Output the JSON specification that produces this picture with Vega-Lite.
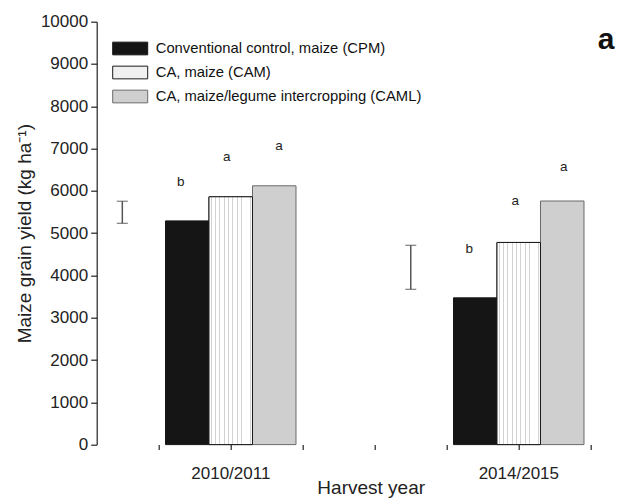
{
  "$schema": "https://vega.github.io/schema/vega-lite/v6.json",
  "width": 523.3,
  "height": 422.9,
  "autosize": {"type": "none"},
  "padding": {"left": 101.7, "top": 21.7, "right": 0, "bottom": 54.4},
  "config": {
    "view": {"stroke": null},
    "font": "Liberation Sans",
    "axis": {
      "grid": false,
      "domainColor": "#222222",
      "tickColor": "#222222",
      "labelColor": "#222222",
      "titleColor": "#222222",
      "domainWidth": 1.2,
      "tickWidth": 1.2,
      "labelFont": "Liberation Sans",
      "titleFont": "Liberation Sans",
      "titleFontWeight": "normal"
    }
  },
  "resolve": {"scale": {"x": "independent", "xOffset": "independent"}, "axis": {"x": "independent"}},
  "datasets": {
    "bars": [
      {"year": 2010, "treatment": "Conventional control, maize (CPM)", "yield": 5290},
      {"year": 2010, "treatment": "CA, maize (CAM)", "yield": 5860},
      {"year": 2010, "treatment": "CA, maize/legume intercropping (CAML)", "yield": 6120},
      {"year": 2014, "treatment": "Conventional control, maize (CPM)", "yield": 3470},
      {"year": 2014, "treatment": "CA, maize (CAM)", "yield": 4780},
      {"year": 2014, "treatment": "CA, maize/legume intercropping (CAML)", "yield": 5760}
    ],
    "lsd": [
      {"year": 2008.5, "lo": 5232, "hi": 5754},
      {"year": 2012.5, "lo": 3671, "hi": 4712}
    ],
    "letters": [
      {"x": 2009.309, "y": 6200, "label": "b"},
      {"x": 2009.947, "y": 6806, "label": "a"},
      {"x": 2010.673, "y": 7066, "label": "a"},
      {"x": 2013.312, "y": 4624, "label": "b"},
      {"x": 2013.95, "y": 5759, "label": "a"},
      {"x": 2014.621, "y": 6556, "label": "a"}
    ],
    "panel": [{"x": 2015.21, "y": 9345, "label": "a"}]
  },
  "layer": [
    {
      "data": {"name": "bars"},
      "mark": {"type": "bar", "strokeWidth": 1},
      "encoding": {
        "x": {
          "field": "year", "type": "ordinal",
          "scale": {"domain": [2009, 2010, 2011, 2012, 2013, 2014, 2015], "range": [21.14, 525.14], "paddingInner": 0, "paddingOuter": 0},
          "axis": {
            "labelExpr": "datum.value == 2010 ? '2010/2011' : datum.value == 2014 ? '2014/2015' : ''",
            "labelOverlap": false,
            "labelAngle": 0,
            "domain": false,
            "tickSize": 5,
            "labelPadding": 16,
            "labelFontSize": 17,
            "title": "Harvest year",
            "titleFontSize": 19,
            "titlePadding": -3,
            "titleX": 269
          }
        },
        "xOffset": {
          "field": "treatment", "type": "nominal",
          "scale": {"type": "band", "domain": ["Conventional control, maize (CPM)", "CA, maize (CAM)", "CA, maize/legume intercropping (CAML)"], "range": [-29.35, 101.15], "paddingInner": 0, "paddingOuter": 0}
        },
        "y": {
          "field": "yield", "type": "quantitative",
          "scale": {"domain": [0, 10000], "nice": false},
          "axis": {
            "values": [0, 1000, 2000, 3000, 4000, 5000, 6000, 7000, 8000, 9000, 10000],
            "format": "d",
            "offset": 5,
            "tickSize": 6,
            "labelPadding": 3,
            "labelFontSize": 17,
            "title": "Maize grain yield (kg ha⁻¹)",
            "titleFontSize": 19,
            "titlePadding": 6
          }
        },
        "fill": {
          "field": "treatment", "type": "nominal",
          "scale": {
            "domain": ["Conventional control, maize (CPM)", "CA, maize (CAM)", "CA, maize/legume intercropping (CAML)"],
            "range": ["#151515", "#f0f0f0", "#cfcfcf"]
          },
          "legend": {
            "title": null,
            "orient": "none",
            "legendX": 15,
            "legendY": 13.3,
            "symbolType": "M-1.378,-0.5H1.378V0.5H-1.378Z",
            "symbolSize": 645,
            "symbolStrokeWidth": 1,
            "labelFontSize": 14.8,
            "labelFont": "Liberation Sans",
            "labelColor": "#111111",
            "labelLimit": 400,
            "labelOffset": 12,
            "rowPadding": 2
          }
        },
        "stroke": {
          "field": "treatment", "type": "nominal",
          "scale": {"domain": ["Conventional control, maize (CPM)", "CA, maize (CAM)", "CA, maize/legume intercropping (CAML)"], "range": ["#151515", "#1a1a1a", "#6a6a6a"]},
          "legend": null
        }
      }
    },
    {
      "data": {"name": "bars"},
      "transform": [{"filter": "datum.treatment === 'CA, maize (CAM)'"}],
      "mark": {
        "type": "bar", "stroke": "#1a1a1a", "strokeWidth": 1,
        "fill": {"gradient": "linear", "x1": 0, "y1": 0, "x2": 1, "y2": 0, "stops": [
          {"offset": 0, "color": "#ffffff"},
          {"offset": 0.04, "color": "#ffffff"}, {"offset": 0.04, "color": "#d2d2d2"}, {"offset": 0.06, "color": "#d2d2d2"}, {"offset": 0.06, "color": "#ffffff"},
          {"offset": 0.14, "color": "#ffffff"}, {"offset": 0.14, "color": "#d2d2d2"}, {"offset": 0.16, "color": "#d2d2d2"}, {"offset": 0.16, "color": "#ffffff"},
          {"offset": 0.24, "color": "#ffffff"}, {"offset": 0.24, "color": "#d2d2d2"}, {"offset": 0.26, "color": "#d2d2d2"}, {"offset": 0.26, "color": "#ffffff"},
          {"offset": 0.34, "color": "#ffffff"}, {"offset": 0.34, "color": "#d2d2d2"}, {"offset": 0.36, "color": "#d2d2d2"}, {"offset": 0.36, "color": "#ffffff"},
          {"offset": 0.44, "color": "#ffffff"}, {"offset": 0.44, "color": "#d2d2d2"}, {"offset": 0.46, "color": "#d2d2d2"}, {"offset": 0.46, "color": "#ffffff"},
          {"offset": 0.54, "color": "#ffffff"}, {"offset": 0.54, "color": "#d2d2d2"}, {"offset": 0.56, "color": "#d2d2d2"}, {"offset": 0.56, "color": "#ffffff"},
          {"offset": 0.64, "color": "#ffffff"}, {"offset": 0.64, "color": "#d2d2d2"}, {"offset": 0.66, "color": "#d2d2d2"}, {"offset": 0.66, "color": "#ffffff"},
          {"offset": 0.74, "color": "#ffffff"}, {"offset": 0.74, "color": "#d2d2d2"}, {"offset": 0.76, "color": "#d2d2d2"}, {"offset": 0.76, "color": "#ffffff"},
          {"offset": 0.84, "color": "#ffffff"}, {"offset": 0.84, "color": "#d2d2d2"}, {"offset": 0.86, "color": "#d2d2d2"}, {"offset": 0.86, "color": "#ffffff"},
          {"offset": 0.94, "color": "#ffffff"}, {"offset": 0.94, "color": "#d2d2d2"}, {"offset": 0.96, "color": "#d2d2d2"}, {"offset": 0.96, "color": "#ffffff"},
          {"offset": 1, "color": "#ffffff"}
        ]}
      },
      "encoding": {
        "x": {
          "field": "year", "type": "ordinal",
          "scale": {"domain": [2009, 2010, 2011, 2012, 2013, 2014, 2015], "range": [21.14, 525.14], "paddingInner": 0, "paddingOuter": 0},
          "axis": null
        },
        "xOffset": {
          "field": "treatment", "type": "nominal",
          "scale": {"type": "band", "domain": ["Conventional control, maize (CPM)", "CA, maize (CAM)", "CA, maize/legume intercropping (CAML)"], "range": [-29.35, 101.15], "paddingInner": 0, "paddingOuter": 0}
        },
        "y": {"field": "yield", "type": "quantitative"}
      }
    },
    {
      "data": {"name": "lsd"},
      "mark": {"type": "rule", "color": "#555555", "strokeWidth": 1.5},
      "encoding": {
        "x": {"field": "year", "type": "quantitative", "scale": {"domain": [2008.214, 2015.471], "nice": false, "zero": false}, "axis": null},
        "y": {"field": "lo", "type": "quantitative"},
        "y2": {"field": "hi"}
      }
    },
    {
      "data": {"name": "lsd"},
      "mark": {"type": "tick", "orient": "horizontal", "color": "#555555", "size": 11, "thickness": 1.3},
      "encoding": {
        "x": {"field": "year", "type": "quantitative", "scale": {"domain": [2008.214, 2015.471], "nice": false, "zero": false}, "axis": null},
        "y": {"field": "lo", "type": "quantitative"}
      }
    },
    {
      "data": {"name": "lsd"},
      "mark": {"type": "tick", "orient": "horizontal", "color": "#555555", "size": 11, "thickness": 1.3},
      "encoding": {
        "x": {"field": "year", "type": "quantitative", "scale": {"domain": [2008.214, 2015.471], "nice": false, "zero": false}, "axis": null},
        "y": {"field": "hi", "type": "quantitative"}
      }
    },
    {
      "data": {"name": "letters"},
      "mark": {"type": "text", "font": "Liberation Sans", "fontSize": 13.5, "color": "#222222", "baseline": "middle", "align": "center"},
      "encoding": {
        "x": {"field": "x", "type": "quantitative", "scale": {"domain": [2008.214, 2015.471], "nice": false, "zero": false}, "axis": null},
        "y": {"field": "y", "type": "quantitative"},
        "text": {"field": "label"}
      }
    },
    {
      "data": {"name": "panel"},
      "mark": {"type": "text", "font": "Liberation Sans", "fontSize": 30, "fontWeight": "bold", "color": "#111111", "baseline": "alphabetic", "align": "center"},
      "encoding": {
        "x": {"field": "x", "type": "quantitative", "scale": {"domain": [2008.214, 2015.471], "nice": false, "zero": false}, "axis": null},
        "y": {"field": "y", "type": "quantitative"},
        "text": {"field": "label"}
      }
    },
    {
      "mark": {"type": "rule", "color": "#222222", "strokeWidth": 1.2},
      "encoding": {"y": {"datum": 10000}}
    },
    {
      "mark": {"type": "rule", "color": "#222222", "strokeWidth": 1.2},
      "encoding": {"y": {"datum": 0}}
    }
  ]
}
